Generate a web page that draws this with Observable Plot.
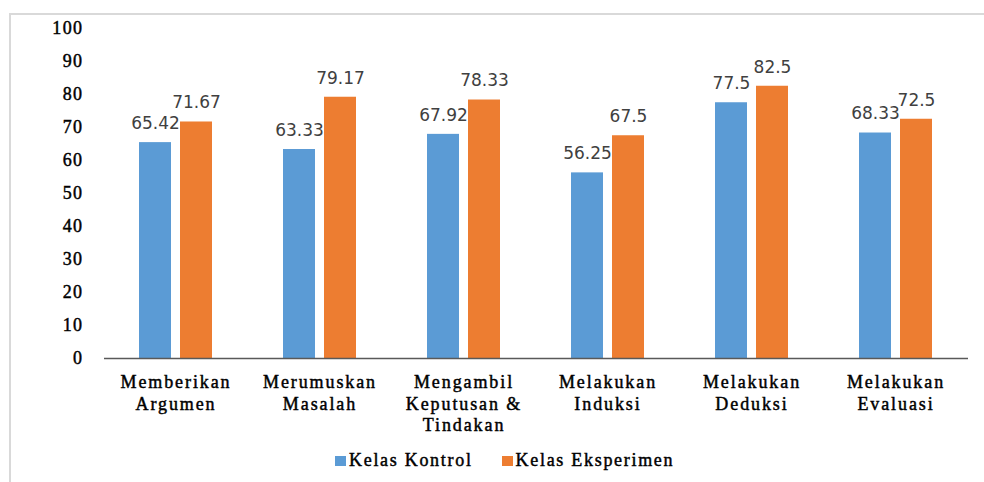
<!DOCTYPE html>
<html>
<head>
<meta charset="utf-8">
<script src="https://cdn.jsdelivr.net/npm/d3@7"></script>
<script src="https://cdn.jsdelivr.net/npm/@observablehq/plot@0.6"></script>
<style>
  body { margin: 0; background: #fff; }
  #wrap { position: relative; width: 984px; height: 482px; background: #fff; overflow: hidden; }
  #frame { position: absolute; left: 9px; top: 13px; right: -10px; bottom: -10px;
           border-left: 2.5px solid #d9d9d9; border-top: 2px solid #d9d9d9; }
  #chart { position: absolute; left: 0; top: 0; }
  #chart g[aria-label="x-axis tick label"] text { letter-spacing: 1.9px; stroke: #000; stroke-width: 0.45px; }
  #chart g[aria-label="y-axis tick label"] text { letter-spacing: 1.4px; stroke: #000; stroke-width: 0.45px; }
  #chart g[aria-label="value labels"] text { letter-spacing: 1px; }
  #legend { position: absolute; left: 335px; top: 450px; display: flex; align-items: center;
            font-family: "Liberation Serif", serif; font-size: 18px; letter-spacing: 1.7px; color: #000;
            -webkit-text-stroke: 0.45px #000; }
  .sw { width: 11px; height: 10px; display: inline-block; margin-right: 3px; }
  .item { display: flex; align-items: center; }
</style>
</head>
<body>
<div id="wrap">
  <div id="frame"></div>
  <div id="chart"></div>
  <div id="legend"></div>
</div>
<script>
const categories = [
  "Memberikan\nArgumen",
  "Merumuskan\nMasalah",
  "Mengambil\nKeputusan &\nTindakan",
  "Melakukan\nInduksi",
  "Melakukan\nDeduksi",
  "Melakukan\nEvaluasi"
];
const seriesNames = ["Kelas Kontrol", "Kelas Eksperimen"];
const kontrol = [65.42, 63.33, 67.92, 56.25, 77.5, 68.33];
const eksperimen = [71.67, 79.17, 78.33, 67.5, 82.5, 72.5];
const yTicks = [0, 10, 20, 30, 40, 50, 60, 70, 80, 90, 100];
const colors = ["#5B9BD5", "#ED7D31"];

const rowsK = categories.map((c, i) => ({cat: c, series: seriesNames[0], value: kontrol[i]}));
const rowsE = categories.map((c, i) => ({cat: c, series: seriesNames[1], value: eksperimen[i]}));

const chart = Plot.plot({
  width: 984,
  height: 440,
  marginLeft: 104,
  marginRight: 16,
  marginTop: 28,
  marginBottom: 82,
  style: {background: "transparent", overflow: "visible"},
  x: {domain: categories, paddingInner: 0.493, paddingOuter: 0.2465, label: null},
  y: {domain: [0, 100], label: null},
  marks: [
    Plot.barY(rowsK, {x: "cat", y: "value", fill: colors[0], insetRight: 41}),
    Plot.barY(rowsE, {x: "cat", y: "value", fill: colors[1], insetLeft: 41}),
    Plot.ruleY([0], {stroke: "#595959", strokeWidth: 1.5}),
    Plot.axisY({ticks: yTicks, tickSize: 0, tickPadding: 21, line: true, stroke: "#595959", strokeWidth: 1.5,
                fill: "#000", fontFamily: "Liberation Serif", fontSize: 18, label: null}),
    Plot.axisX({tickSize: 0, tickPadding: 15, fill: "#000", fontFamily: "Liberation Serif", fontSize: 18,
                lineHeight: 1.17, label: null}),
    Plot.text(rowsK, {x: "cat", y: "value", text: d => String(d.value), dx: -20.5, dy: -19,
                      fontFamily: "DejaVu Sans", fontSize: 17, fill: "#404040", ariaLabel: "value labels"}),
    Plot.text(rowsE, {x: "cat", y: "value", text: d => String(d.value), dx: 20.5, dy: -19,
                      fontFamily: "DejaVu Sans", fontSize: 17, fill: "#404040", ariaLabel: "value labels"})
  ]
});
document.getElementById("chart").appendChild(chart);

const legend = document.getElementById("legend");
seriesNames.forEach((name, i) => {
  const item = document.createElement("div");
  item.className = "item";
  if (i > 0) item.style.marginLeft = "29px";
  const sw = document.createElement("span");
  sw.className = "sw";
  sw.style.background = colors[i];
  const t = document.createElement("span");
  t.textContent = name;
  item.appendChild(sw);
  item.appendChild(t);
  legend.appendChild(item);
});
</script>
</body>
</html>
